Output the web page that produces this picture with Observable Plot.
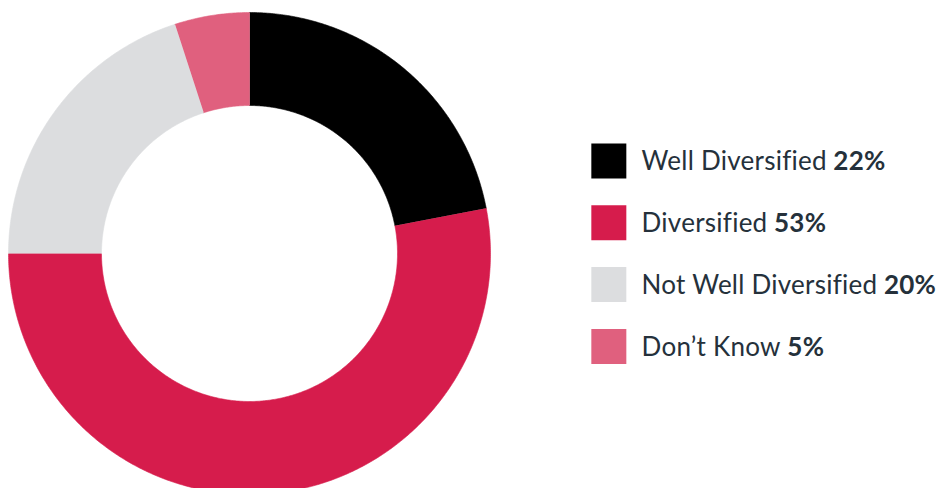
<!DOCTYPE html>
<html>
<head>
<meta charset="utf-8">
<script src="https://cdn.jsdelivr.net/npm/d3@7"></script>
<script src="https://cdn.jsdelivr.net/npm/@observablehq/plot@0.6"></script>
<style>
  html, body { margin: 0; padding: 0; background: #fff; }
  #chart svg { display: block; }
</style>
</head>
<body>
<div id="chart"></div>
<script>
// ---- data ----
const categories = ["Well Diversified", "Diversified", "Not Well Diversified", "Don\u2019t Know"];
const values = [22, 53, 20, 5];
const colors = ["#000000", "#d61c4c", "#dcdddf", "#e0607e"];

// ---- layout (in donut-radius units) ----
const innerRatio = 148 / 241;
const legendX = 1.491;      // square centre
const textX = 1.627;        // label start
const legendY0 = 0.384;     // first row centre
const legendStep = 0.2565;  // row spacing

const data = categories.map((c, i) => ({category: c, value: values[i]}));
const arcs = d3.pie().sort(null).value(d => d.value)(data);

// ring-sector outlines built from the pie angles
const outline = [];
for (const a of arcs) {
  const n = Math.max(8, Math.ceil((a.endAngle - a.startAngle) * 120));
  for (let k = 0; k <= n; k++) {
    const t = a.startAngle + (a.endAngle - a.startAngle) * k / n;
    outline.push({category: a.data.category, x: Math.sin(t), y: Math.cos(t)});
  }
  for (let k = n; k >= 0; k--) {
    const t = a.startAngle + (a.endAngle - a.startAngle) * k / n;
    outline.push({category: a.data.category, x: innerRatio * Math.sin(t), y: innerRatio * Math.cos(t)});
  }
}

const legend = data.map((d, i) => ({...d, y: legendY0 - i * legendStep}));

const chart = Plot.plot({
  width: 937,
  height: 488,
  margin: 0,
  style: {fontFamily: "Lato, sans-serif", background: "#fff"},
  x: {domain: [-1, 1], range: [8, 490], axis: null},
  y: {domain: [-1, 1], range: [494, 12], axis: null},
  color: {domain: categories, range: colors},
  marks: [
    Plot.line(outline, {
      x: "x", y: "y", z: "category",
      fill: "category", stroke: "category", strokeWidth: 0.6,
      curve: "linear"
    }),
    Plot.dot(legend, {
      x: () => legendX, y: "y", symbol: "square", r: 35 / Math.sqrt(Math.PI),
      fill: "category", stroke: null
    }),
    Plot.text(legend, {
      x: () => textX, y: "y", text: "category",
      textAnchor: "start", lineAnchor: "middle",
      fontSize: 26, fill: "#25313b", dy: 1,
      render(index, scales, values, dimensions, context, next) {
        const g = next(index, scales, values, dimensions, context);
        d3.select(g).style("letter-spacing", "0.25px");
        d3.select(g).selectAll("text").each(function(_, j) {
          const i = index[j];
          d3.select(this).append("tspan")
            .attr("font-weight", "bold")
            .text(" " + legend[i].value + "%");
        });
        return g;
      }
    })
  ]
});

document.getElementById("chart").appendChild(chart);
</script>
</body>
</html>
